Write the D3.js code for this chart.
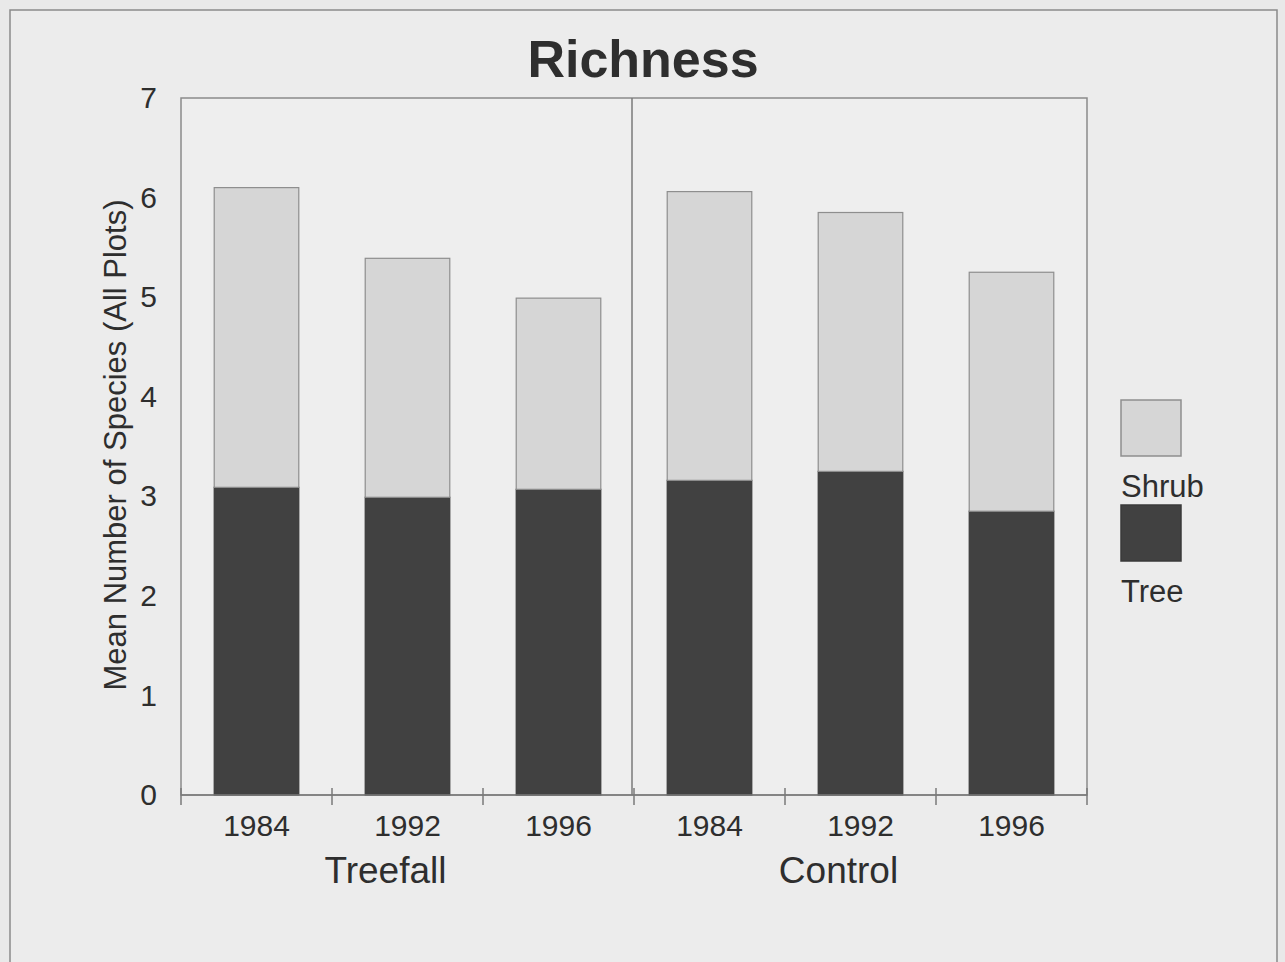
<!DOCTYPE html>
<html>
<head>
<meta charset="utf-8">
<script src="https://cdn.jsdelivr.net/npm/d3@7"></script>
<style>
  html, body { margin: 0; padding: 0; background: #e9e9e9; }
  svg { display: block; }
  text { font-family: Arial, "Liberation Sans", sans-serif; fill: #2e2e2e; }
</style>
</head>
<body>
<script>
// Mean species richness per plot, split into tree and shrub components
const groups = ["Treefall", "Control"];
const years = ["1984", "1992", "1996"];
const categories = ["Treefall 1984", "Treefall 1992", "Treefall 1996",
                    "Control 1984", "Control 1992", "Control 1996"];
const treeValues  = [3.09, 2.99, 3.07, 3.16, 3.25, 2.85];
const shrubValues = [3.01, 2.40, 1.92, 2.90, 2.60, 2.40];
const yTicks = [0, 1, 2, 3, 4, 5, 6, 7];
const seriesNames = ["Shrub", "Tree"];

const W = 1285, H = 962;
const margin = { left: 181, right: 1285 - 1087, top: 98, bottom: 962 - 795 };

const svg = d3.select("body").append("svg").attr("width", W).attr("height", H);

// page background and outer frame
svg.append("rect").attr("x", 0).attr("y", 0).attr("width", W).attr("height", H).attr("fill", "#e9e9e9");
svg.append("rect").attr("x", 10).attr("y", 10).attr("width", 1267).attr("height", 960)
  .attr("fill", "#ececec").attr("stroke", "#8a8a8a").attr("stroke-width", 1.5);

const x = d3.scaleBand().domain(categories).range([margin.left, W - margin.right]).paddingInner(0.44).paddingOuter(0.22);
const xOuter = d3.scaleBand().domain(categories).range([margin.left, W - margin.right]);
const y = d3.scaleLinear().domain([0, 7]).range([H - margin.bottom, margin.top]);

// plot frame
svg.append("rect")
  .attr("x", margin.left).attr("y", margin.top)
  .attr("width", W - margin.right - margin.left).attr("height", H - margin.bottom - margin.top)
  .attr("fill", "#eeeeee").attr("stroke", "#8a8a8a").attr("stroke-width", 1.5);

// divider between treefall and control plots
const divX = xOuter("Control 1984") - 2;
svg.append("line").attr("x1", divX).attr("x2", divX)
  .attr("y1", margin.top).attr("y2", H - margin.bottom)
  .attr("stroke", "#7a7a7a").attr("stroke-width", 1.5);

// stacked bars
const stacked = d3.stack().keys(["tree", "shrub"])(
  categories.map((c, i) => ({ cat: c, tree: treeValues[i], shrub: shrubValues[i] }))
);
const fills = { tree: "#414141", shrub: "#d6d6d6" };
const strokes = { tree: "#3a3a3a", shrub: "#8e8e8e" };

stacked.forEach(layer => {
  svg.append("g").selectAll("rect").data(layer).join("rect")
    .attr("x", d => x(d.data.cat))
    .attr("width", x.bandwidth())
    .attr("y", d => y(d[1]))
    .attr("height", d => y(d[0]) - y(d[1]))
    .attr("fill", fills[layer.key])
    .attr("stroke", strokes[layer.key])
    .attr("stroke-width", 1.2);
});

// y axis
const yAxis = svg.append("g").attr("transform", `translate(${margin.left},0)`)
  .call(d3.axisLeft(y).tickValues(yTicks).tickFormat(d3.format("d")).tickSize(0).tickPadding(24));
yAxis.select(".domain").remove();
yAxis.selectAll("text").style("font-size", "30px").style("fill", "#2e2e2e")
  .style("font-family", "Arial, 'Liberation Sans', sans-serif");

// x axis ticks at category boundaries
const xAxisY = H - margin.bottom;
svg.append("line").attr("x1", margin.left).attr("x2", W - margin.right)
  .attr("y1", xAxisY).attr("y2", xAxisY).attr("stroke", "#7a7a7a").attr("stroke-width", 1.5);
const boundaries = categories.map(c => xOuter(c)).concat([W - margin.right]);
svg.append("g").selectAll("line").data(boundaries).join("line")
  .attr("x1", d => d).attr("x2", d => d)
  .attr("y1", xAxisY - 7).attr("y2", xAxisY + 10)
  .attr("stroke", "#7a7a7a").attr("stroke-width", 1.5);

// year labels
svg.append("g").selectAll("text").data(categories).join("text")
  .attr("x", d => x(d) + x.bandwidth() / 2)
  .attr("y", 836)
  .attr("text-anchor", "middle")
  .style("font-size", "30px")
  .text(d => d.split(" ")[1]);

// group labels
groups.forEach(g => {
  const cats = categories.filter(c => c.startsWith(g));
  const cx = (x(cats[0]) + x(cats[cats.length - 1]) + x.bandwidth()) / 2 - 22;
  svg.append("text").attr("x", cx).attr("y", 883)
    .attr("text-anchor", "middle").style("font-size", "37px").text(g);
});

// title
svg.append("text").attr("x", 643).attr("y", 77).attr("text-anchor", "middle")
  .style("font-size", "52px").style("font-weight", "bold").text("Richness");

// y axis title
svg.append("text")
  .attr("transform", `translate(126,445) rotate(-90)`)
  .attr("text-anchor", "middle").style("font-size", "31px")
  .text("Mean Number of Species (All Plots)");

// legend
const legend = svg.append("g").attr("transform", "translate(1121,400)");
seriesNames.forEach((name, i) => {
  const key = name.toLowerCase();
  legend.append("rect").attr("x", 0).attr("y", i * 105).attr("width", 60).attr("height", 56)
    .attr("fill", fills[key]).attr("stroke", strokes[key]).attr("stroke-width", 1.5);
  legend.append("text").attr("x", 0).attr("y", i * 105 + 97)
    .style("font-size", "31px").text(name);
});
</script>
</body>
</html>
